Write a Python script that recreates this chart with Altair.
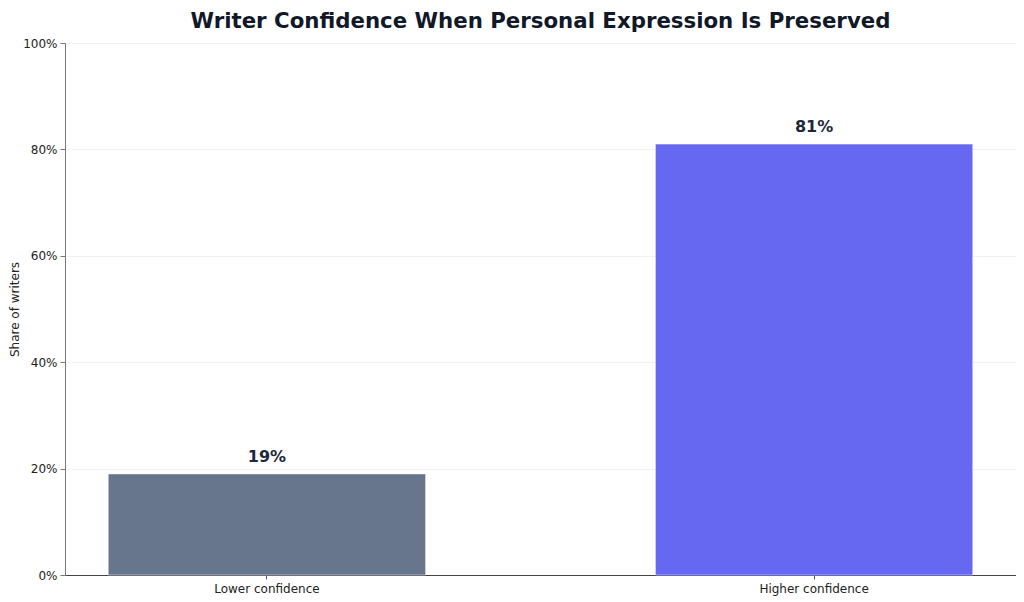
import altair as alt
import pandas as pd

categories = ["Lower confidence", "Higher confidence"]
shares = [0.19, 0.81]
labels = ["19%", "81%"]
bar_colors = ["#64748b", "#6366f1"]

df = pd.DataFrame({"group": categories, "share": shares, "label": labels})

FONT = "DejaVu Sans"

x_enc = alt.X(
    "group:N",
    sort=categories,
    title=None,
    scale=alt.Scale(paddingInner=0.42, paddingOuter=0.079),
    axis=alt.Axis(labelAngle=0, labelFontSize=12, labelColor="#222222", labelFont=FONT,
                  domainColor="#444444", tickColor="#555555", tickSize=4, labelPadding=4,
                  grid=False),
)
y_enc = alt.Y(
    "share:Q",
    title="Share of writers",
    scale=alt.Scale(domain=[0, 1], nice=False),
    axis=alt.Axis(format=".0%", values=[0, 0.2, 0.4, 0.6, 0.8, 1.0], labelFontSize=12,
                  labelColor="#222222", labelFont=FONT, titleFont=FONT, titleFontSize=12,
                  titleFontWeight="normal", titleColor="#222222", titlePadding=1,
                  domainColor="#777777", tickColor="#777777", tickSize=5, labelPadding=3,
                  grid=True, gridColor="#eeeeee", gridWidth=0.8),
)

bars = alt.Chart(df).mark_bar(stroke="#ffffff", strokeWidth=0.5, opacity=0.98).encode(
    x=x_enc,
    y=y_enc,
    color=alt.Color("group:N", sort=categories,
                    scale=alt.Scale(domain=categories, range=bar_colors), legend=None),
)

text = alt.Chart(df).mark_text(
    dy=-9, baseline="bottom", fontSize=16, fontWeight="bold", font=FONT, color="#1e293b"
).encode(
    x=alt.X("group:N", sort=categories),
    y="share:Q",
    text="label:N",
)

chart = (
    alt.layer(bars, text)
    .properties(
        width=951,
        height=532,
        title=alt.TitleParams(
            "Writer Confidence When Personal Expression Is Preserved",
            fontSize=21.3, font=FONT, fontWeight="bold", color="#111827",
            anchor="middle", offset=5,
        ),
        padding={"left": 0, "top": 2, "right": 0, "bottom": 8},
    )
    .configure_view(strokeWidth=0)
)

chart.save("out.html", embed_options={"renderer": "svg", "actions": False})
